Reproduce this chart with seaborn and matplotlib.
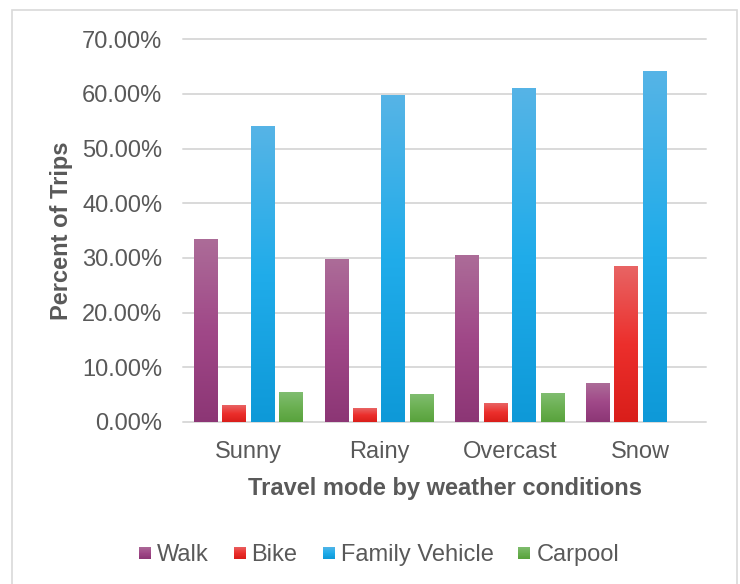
import numpy as np
import pandas as pd
import matplotlib
matplotlib.use("Agg")
import matplotlib.pyplot as plt
import seaborn as sns
from matplotlib.colors import LinearSegmentedColormap
from matplotlib.legend_handler import HandlerBase
from matplotlib.patches import Rectangle

# ---- data -------------------------------------------------------------
conditions = ["Sunny", "Rainy", "Overcast", "Snow"]
modes = ["Walk", "Bike", "Family Vehicle", "Carpool"]
walk = [33.4, 29.8, 30.5, 7.1]
bike = [3.1, 2.4, 3.4, 28.5]
family_vehicle = [54.1, 59.8, 61.0, 64.2]
carpool = [5.4, 5.1, 5.25, 0.0]
y_ticks = [0, 10, 20, 30, 40, 50, 60, 70]

# gradient stops per mode: (bottom, middle, top)
stops = {
    "Walk": ["#8C3675", "#A04888", "#AC6C98"],
    "Bike": ["#D91E1A", "#EC2F2C", "#E86464"],
    "Family Vehicle": ["#0E99D8", "#20ACEA", "#56B4E6"],
    "Carpool": ["#58A23C", "#6BB052", "#80BD70"],
}
cmaps = {m: LinearSegmentedColormap.from_list(m, stops[m]) for m in modes}
mid_colors = {m: stops[m][1] for m in modes}

df = pd.DataFrame({
    "condition": conditions * 4,
    "mode": [m for m in modes for _ in conditions],
    "pct": walk + bike + family_vehicle + carpool,
})

# ---- style ------------------------------------------------------------
sns.set_theme(style="white")
plt.rcParams["font.family"] = ["Liberation Sans", "DejaVu Sans"]
text_color = "#595959"
grid_color = "#D9D9D9"
fs = 17

fig = plt.figure(figsize=(7.4, 5.84), dpi=100)
ax = fig.add_axes([183 / 740, 1 - 422 / 584, (706 - 183) / 740, (422 - 39.3) / 584])

sns.barplot(data=df, x="condition", y="pct", hue="mode", order=conditions,
            hue_order=modes, palette=mid_colors, width=0.87, gap=0.16,
            saturation=1, errorbar=None, legend=False, ax=ax)

ax.set_ylim(0, 70)
xlim = ax.get_xlim()

# replace flat bar fills with vertical gradients
color_to_mode = {tuple(np.round(matplotlib.colors.to_rgba(mid_colors[m]), 3)): m for m in modes}
grad = np.linspace(0, 1, 256).reshape(-1, 1)
for p in list(ax.patches):
    key = tuple(np.round(p.get_facecolor(), 3))
    mode = color_to_mode.get(key)
    if mode is None:
        continue
    x0, y0 = p.get_x(), p.get_y()
    w, h = p.get_width(), p.get_height()
    p.set_visible(False)
    if h <= 0:
        continue
    ax.imshow(grad, cmap=cmaps[mode], origin="lower", aspect="auto",
              extent=[x0, x0 + w, y0, y0 + h], zorder=2, interpolation="bilinear")

ax.set_xlim(xlim)
ax.set_ylim(0, 70)
ax.set_yticks(y_ticks)
ax.set_yticklabels([f"{v:.2f}%" for v in y_ticks])

ax.set_axisbelow(True)
ax.grid(axis="y", color=grid_color, lw=1.4)
ax.grid(axis="x", visible=False)
for gl in ax.get_ygridlines():
    gl.set_clip_on(False)
for s in ax.spines.values():
    s.set_visible(False)

ax.tick_params(axis="y", length=0, pad=15, labelsize=fs, labelcolor=text_color)
ax.tick_params(axis="x", length=0, pad=14, labelsize=fs, labelcolor=text_color)

ax.set_ylabel("Percent of Trips", fontsize=fs, fontweight="bold", color=text_color)
ax.yaxis.set_label_coords(-0.210, 0.5)
ax.set_xlabel("Travel mode by weather conditions", fontsize=fs, fontweight="bold",
              color=text_color)
ax.xaxis.set_label_coords(0.5, -0.1435)


# ---- legend with gradient swatches ------------------------------------
class GradientSwatch(HandlerBase):
    def __init__(self, cmap, n=16):
        super().__init__()
        self.cmap = cmap
        self.n = n

    def create_artists(self, legend, orig_handle, xdescent, ydescent,
                       width, height, fontsize, trans):
        side = min(width, height)
        x0 = -xdescent + (width - side) / 2
        y0 = -ydescent + (height - side) / 2
        step = side / self.n
        arts = []
        for i in range(self.n):
            r = Rectangle((x0, y0 + i * step), side, step * 1.05,
                          facecolor=self.cmap((i + 0.5) / self.n),
                          edgecolor="none", transform=trans)
            arts.append(r)
        return arts


handles = [Rectangle((0, 0), 1, 1, facecolor=mid_colors[m]) for m in modes]
hmap = {h: GradientSwatch(cmaps[m]) for h, m in zip(handles, modes)}
leg = fig.legend(handles, modes, handler_map=hmap, loc="center",
                 bbox_to_anchor=(379 / 740, 1 - 555 / 584), ncol=4, frameon=False,
                 fontsize=fs, handlelength=0.51, handleheight=0.51,
                 handletextpad=0.25, columnspacing=1.06, borderpad=0)
for t in leg.get_texts():
    t.set_color(text_color)

# chart border
fig.add_artist(Rectangle((12 / 740, -0.05), (737 - 12) / 740, 1.05 - 10 / 584,
                         transform=fig.transFigure, fill=False,
                         edgecolor=grid_color, lw=1.2))

fig.savefig("out.png", dpi=100)
